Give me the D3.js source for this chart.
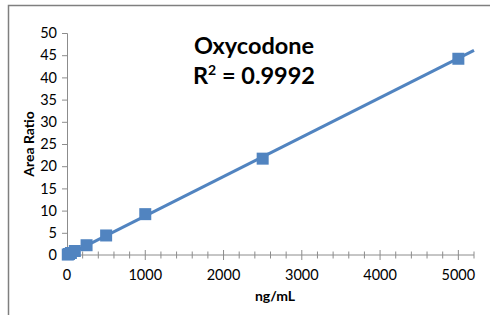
<!DOCTYPE html>
<html>
<head>
<meta charset="utf-8">
<script src="https://cdn.jsdelivr.net/npm/d3@7"></script>
<style>
  body { margin: 0; background: #fff; }
  text { font-family: Lato, "Open Sans", sans-serif; fill: #000; }
</style>
</head>
<body>
<div id="visual"></div>
<script>
// calibration points (ng/mL vs area ratio)
const concentrations = [10, 25, 50, 100, 250, 500, 1000, 2500, 5000];
const areaRatios = [0.1, 0.22, 0.45, 0.9, 2.2, 4.4, 9.2, 21.7, 44.2];
// trendline end points
const trendX = [0, 5200];
const trendY = [-0.1, 46.1];
const yTicks = [0, 5, 10, 15, 20, 25, 30, 35, 40, 45, 50];
const xTicks = [0, 1000, 2000, 3000, 4000, 5000];
const title = "Oxycodone";
const rSquared = "0.9992";

const W = 490, H = 315;
const blue = "#5184c0";

const svg = d3.select("#visual")
    .append("svg")
    .attr("width", W)
    .attr("height", H);

// outer chart frame (right and bottom fall outside the crop)
svg.append("rect")
    .attr("x", 8.5).attr("y", 5.5)
    .attr("width", W + 20).attr("height", H + 20)
    .attr("fill", "none")
    .attr("stroke", "#7f7f7f")
    .attr("stroke-width", 1.5);

const x = d3.scaleLinear().domain([0, 5200]).range([67, 474]);
const y = d3.scaleLinear().domain([0, 50]).range([255, 33]);

// y axis
const yAxis = svg.append("g")
    .attr("transform", "translate(" + x(0) + ",0)")
    .call(d3.axisLeft(y).tickValues(yTicks).tickSize(5).tickPadding(5));
yAxis.select(".domain").attr("stroke", "#8c8c8c");
yAxis.selectAll(".tick line").attr("stroke", "#8c8c8c");
yAxis.selectAll(".tick text").style("font-size", "14.5px").attr("fill", "#000");

// x axis: cross ticks every 200, labels every 1000
const xg = svg.append("g");
xg.append("line")
    .attr("x1", x(0)).attr("x2", x(5200))
    .attr("y1", y(0)).attr("y2", y(0))
    .attr("stroke", "#8c8c8c");
xg.selectAll(".minor")
    .data(d3.range(200, 5201, 200))
    .enter()
    .append("line")
    .attr("x1", d => x(d)).attr("x2", d => x(d))
    .attr("y1", d => y(0) - (d % 1000 === 0 ? 5 : 3.5))
    .attr("y2", d => y(0) + (d % 1000 === 0 ? 5 : 3.5))
    .attr("stroke", "#8c8c8c");
xg.selectAll(".lbl")
    .data(xTicks)
    .enter()
    .append("text")
    .attr("x", d => x(d))
    .attr("y", 280)
    .attr("text-anchor", "middle")
    .style("font-size", "14.5px")
    .text(d => d);

// trendline
svg.append("line")
    .attr("x1", x(trendX[0])).attr("y1", y(trendY[0]))
    .attr("x2", x(trendX[1])).attr("y2", y(trendY[1]))
    .attr("stroke", blue)
    .attr("stroke-width", 3);

// markers
const pts = concentrations.map((c, i) => ({ c: c, a: areaRatios[i] }));
svg.selectAll(".pt")
    .data(pts)
    .enter()
    .append("rect")
    .attr("x", d => x(d.c) - 6)
    .attr("y", d => y(d.a) - 6)
    .attr("width", 12)
    .attr("height", 12)
    .attr("fill", blue);

// axis titles
svg.append("text")
    .attr("transform", "translate(34,144) rotate(-90)")
    .attr("text-anchor", "middle")
    .style("font-size", "14px")
    .style("font-weight", "bold")
    .text("Area Ratio");

svg.append("text")
    .attr("x", 275).attr("y", 301)
    .attr("text-anchor", "middle")
    .style("font-size", "14px")
    .style("font-weight", "bold")
    .text("ng/mL");

// chart title
svg.append("text")
    .attr("x", 254).attr("y", 54)
    .attr("text-anchor", "middle")
    .style("font-size", "23.5px")
    .style("font-weight", "bold")
    .text(title);

const r2 = svg.append("text")
    .attr("x", 254).attr("y", 84)
    .attr("text-anchor", "middle")
    .style("font-size", "23.5px")
    .style("font-weight", "bold");
r2.append("tspan").text("R");
r2.append("tspan").attr("dy", -9).style("font-size", "14px").text("2");
r2.append("tspan").attr("dy", 9).text(" = " + rSquared);
</script>
</body>
</html>
